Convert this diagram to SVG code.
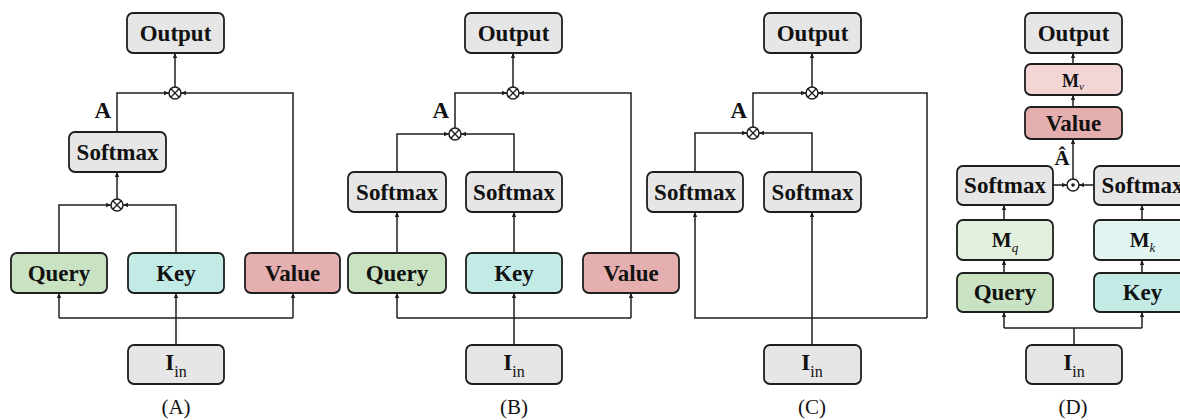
<svg xmlns="http://www.w3.org/2000/svg" width="1180" height="420" viewBox="0 0 1180 420">
  <style>
    .box { stroke: #1e1e1e; stroke-width: 1.8; }
    .gray { fill: #e6e6e6; }
    .q { fill: #c9e3c2; }
    .k { fill: #c2ebe6; }
    .v { fill: #e6afaf; }
    .mq { fill: #e2efdd; }
    .mk { fill: #e3f5f3; }
    .mv { fill: #f3d5d5; }
    .t { font-family: "Liberation Serif", "Times New Roman", serif; font-weight: bold; font-size: 23px; text-anchor: middle; fill: #111; }
    .sub { font-weight: normal; font-size: 16px; }
    .isub { font-weight: normal; font-style: italic; font-size: 13px; }
    .cap { font-family: "Liberation Serif", "Times New Roman", serif; font-size: 21px; text-anchor: middle; fill: #111; }
    .w { fill: none; stroke: #1e1e1e; stroke-width: 1.5; }
    .a { marker-end: url(#arr); }
    .op { fill: #fff; stroke: #1e1e1e; stroke-width: 1.5; }
  </style>
  <defs>
    <marker id="arr" markerUnits="userSpaceOnUse" markerWidth="6" markerHeight="6" refX="5" refY="2.2" orient="auto">
      <path d="M0,0 L5,2.2 L0,4.4 z" fill="#1e1e1e"/>
    </marker>
    <g id="otimes">
      <circle r="6" class="op"/>
      <path d="M-4.2,-4.2 L4.2,4.2 M-4.2,4.2 L4.2,-4.2" stroke="#1e1e1e" stroke-width="1.3"/>
    </g>
    <g id="odot">
      <circle r="6" class="op"/>
      <circle r="1.8" fill="#1e1e1e"/>
    </g>
  </defs>

  <!-- connectors -->
  <g id="connectors">
    <!-- (A) -->
    <path class="w" d="M59,318 H293"/>
    <path class="w a" d="M59,318 V293"/>
    <path class="w a" d="M293,318 V293"/>
    <path class="w a" d="M176,345 V293"/>
    <path class="w a" d="M59,253 V205 H111"/>
    <path class="w a" d="M176,253 V205 H123"/>
    <path class="w a" d="M117,199 V172"/>
    <path class="w a" d="M117,132 V93 H169"/>
    <path class="w a" d="M293,253 V93 H181"/>
    <path class="w a" d="M175,87 V53"/>
    <!-- (B) -->
    <path class="w" d="M397,318 H631"/>
    <path class="w a" d="M397,318 V293"/>
    <path class="w a" d="M631,318 V293"/>
    <path class="w a" d="M514,345 V293"/>
    <path class="w a" d="M397,253 V212"/>
    <path class="w a" d="M514,253 V212"/>
    <path class="w a" d="M397,172 V134 H449"/>
    <path class="w a" d="M514,172 V134 H461"/>
    <path class="w a" d="M455,128 V93 H507"/>
    <path class="w a" d="M631,253 V93 H519"/>
    <path class="w a" d="M513,87 V53"/>
    <!-- (C) -->
    <path class="w a" d="M927,318 H695 V212"/>
    <path class="w a" d="M927,318 V93 H818"/>
    <path class="w a" d="M812,345 V212"/>
    <path class="w a" d="M695,172 V133 H747"/>
    <path class="w a" d="M812,172 V133 H759"/>
    <path class="w a" d="M753,127 V93 H806"/>
    <path class="w a" d="M812,87 V53"/>
    <!-- (D) -->
    <path class="w" d="M1004,328 H1142 M1074,345 V328"/>
    <path class="w a" d="M1004,328 V312"/>
    <path class="w a" d="M1142,328 V312"/>
    <path class="w a" d="M1004,273 V260"/>
    <path class="w a" d="M1142,273 V260"/>
    <path class="w a" d="M1004,220 V205"/>
    <path class="w a" d="M1142,220 V205"/>
    <path class="w a" d="M1053,185 H1067"/>
    <path class="w a" d="M1094,185 H1079"/>
    <path class="w a" d="M1073,179 V139"/>
    <path class="w a" d="M1073,107 V95"/>
    <path class="w a" d="M1073,64 V53"/>
  </g>

  <!-- operators -->
  <use id="opA1" href="#otimes" x="117" y="205"/>
  <use id="opA2" href="#otimes" x="175" y="93"/>
  <use id="opB1" href="#otimes" x="455" y="134"/>
  <use id="opB2" href="#otimes" x="513" y="93"/>
  <use id="opC1" href="#otimes" x="753" y="133"/>
  <use id="opC2" href="#otimes" x="812" y="93"/>
  <use id="opD1" href="#odot" x="1073" y="185"/>

  <!-- (A) nodes -->
  <g id="A-output"><rect class="box gray" x="127" y="13" width="97" height="40" rx="6"/><text class="t" x="175.5" y="41">Output</text></g>
  <g id="A-softmax"><rect class="box gray" x="69" y="132" width="97" height="40" rx="6"/><text class="t" x="117.5" y="160">Softmax</text></g>
  <g id="A-query"><rect class="box q" x="11" y="253" width="96" height="40" rx="6"/><text class="t" x="59" y="281">Query</text></g>
  <g id="A-key"><rect class="box k" x="128" y="253" width="96" height="40" rx="6"/><text class="t" x="176" y="281">Key</text></g>
  <g id="A-value"><rect class="box v" x="245" y="253" width="95" height="40" rx="6"/><text class="t" x="292.5" y="281">Value</text></g>
  <g id="A-input"><rect class="box gray" x="128" y="345" width="96" height="39" rx="6"/><text class="t" x="176" y="370">I<tspan class="sub" dy="7">in</tspan></text></g>
  <text class="t" x="111" y="118" style="text-anchor:end">A</text>
  <text class="cap" x="176" y="414">(A)</text>

  <!-- (B) nodes -->
  <g id="B-output"><rect class="box gray" x="465" y="13" width="97" height="40" rx="6"/><text class="t" x="513.5" y="41">Output</text></g>
  <g id="B-softmax1"><rect class="box gray" x="348" y="172" width="98" height="40" rx="6"/><text class="t" x="397" y="200">Softmax</text></g>
  <g id="B-softmax2"><rect class="box gray" x="466" y="172" width="96" height="40" rx="6"/><text class="t" x="514" y="200">Softmax</text></g>
  <g id="B-query"><rect class="box q" x="348" y="253" width="98" height="40" rx="6"/><text class="t" x="397" y="281">Query</text></g>
  <g id="B-key"><rect class="box k" x="466" y="253" width="96" height="40" rx="6"/><text class="t" x="514" y="281">Key</text></g>
  <g id="B-value"><rect class="box v" x="583" y="253" width="96" height="40" rx="6"/><text class="t" x="631" y="281">Value</text></g>
  <g id="B-input"><rect class="box gray" x="466" y="345" width="96" height="39" rx="6"/><text class="t" x="514" y="370">I<tspan class="sub" dy="7">in</tspan></text></g>
  <text class="t" x="449" y="118" style="text-anchor:end">A</text>
  <text class="cap" x="514" y="414">(B)</text>

  <!-- (C) nodes -->
  <g id="C-output"><rect class="box gray" x="764" y="13" width="97" height="40" rx="6"/><text class="t" x="812.5" y="41">Output</text></g>
  <g id="C-softmax1"><rect class="box gray" x="647" y="172" width="96" height="40" rx="6"/><text class="t" x="695" y="200">Softmax</text></g>
  <g id="C-softmax2"><rect class="box gray" x="764" y="172" width="97" height="40" rx="6"/><text class="t" x="812.5" y="200">Softmax</text></g>
  <g id="C-input"><rect class="box gray" x="764" y="345" width="97" height="39" rx="6"/><text class="t" x="812" y="370">I<tspan class="sub" dy="7">in</tspan></text></g>
  <text class="t" x="747" y="118" style="text-anchor:end">A</text>
  <text class="cap" x="812" y="414">(C)</text>

  <!-- (D) nodes -->
  <g id="D-output"><rect class="box gray" x="1025" y="13" width="97" height="40" rx="6"/><text class="t" x="1073.5" y="41">Output</text></g>
  <g id="D-mv"><rect class="box mv" x="1025" y="64" width="97" height="31" rx="6"/><text class="t" x="1073" y="87" style="font-size:18px">M<tspan class="isub" dy="3" style="font-size:11px">v</tspan></text></g>
  <g id="D-value"><rect class="box v" x="1025" y="107" width="97" height="32" rx="6"/><text class="t" x="1073.5" y="131">Value</text></g>
  <g id="D-softmax1"><rect class="box gray" x="957" y="166" width="96" height="39" rx="6"/><text class="t" x="1005" y="193">Softmax</text></g>
  <g id="D-softmax2"><rect class="box gray" x="1094" y="166" width="97" height="39" rx="6"/><text class="t" x="1142.5" y="193">Softmax</text></g>
  <g id="D-mq"><rect class="box mq" x="957" y="220" width="96" height="40" rx="6"/><text class="t" x="1005" y="247" style="font-size:21px">M<tspan class="isub" dy="5">q</tspan></text></g>
  <g id="D-mk"><rect class="box mk" x="1094" y="220" width="97" height="40" rx="6"/><text class="t" x="1142.5" y="247" style="font-size:21px">M<tspan class="isub" dy="5">k</tspan></text></g>
  <g id="D-query"><rect class="box q" x="957" y="273" width="96" height="39" rx="6"/><text class="t" x="1005" y="300">Query</text></g>
  <g id="D-key"><rect class="box k" x="1094" y="273" width="97" height="39" rx="6"/><text class="t" x="1142.5" y="300">Key</text></g>
  <g id="D-input"><rect class="box gray" x="1026" y="345" width="96" height="39" rx="6"/><text class="t" x="1074" y="370">I<tspan class="sub" dy="7">in</tspan></text></g>
  <text class="t" x="1062" y="165" style="font-size:21px">Â</text>
  <text class="cap" x="1073" y="414">(D)</text>
</svg>
